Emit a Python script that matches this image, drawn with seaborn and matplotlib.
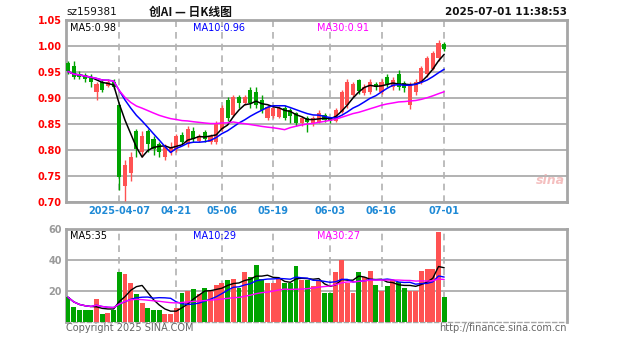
import numpy as np
import pandas as pd
import matplotlib
matplotlib.use("Agg")
import matplotlib.pyplot as plt
import seaborn as sns

# ---- daily bars, sz159381 ----
dates = [
    "2025-03-24", "2025-03-25", "2025-03-26", "2025-03-27", "2025-03-28", "2025-03-31",
    "2025-04-01", "2025-04-02", "2025-04-03", "2025-04-07", "2025-04-08", "2025-04-09",
    "2025-04-10", "2025-04-11", "2025-04-14", "2025-04-15", "2025-04-16", "2025-04-17",
    "2025-04-18", "2025-04-21", "2025-04-22", "2025-04-23", "2025-04-24", "2025-04-25",
    "2025-04-28", "2025-04-29", "2025-04-30", "2025-05-06", "2025-05-07", "2025-05-08",
    "2025-05-09", "2025-05-12", "2025-05-13", "2025-05-14", "2025-05-15", "2025-05-16",
    "2025-05-19", "2025-05-20", "2025-05-21", "2025-05-22", "2025-05-23", "2025-05-26",
    "2025-05-27", "2025-05-28", "2025-05-29", "2025-05-30", "2025-06-03", "2025-06-04",
    "2025-06-05", "2025-06-06", "2025-06-09", "2025-06-10", "2025-06-11", "2025-06-12",
    "2025-06-13", "2025-06-16", "2025-06-17", "2025-06-18", "2025-06-19", "2025-06-20",
    "2025-06-23", "2025-06-24", "2025-06-25", "2025-06-26", "2025-06-27", "2025-06-30",
    "2025-07-01",
]
opens = [
    0.968, 0.961, 0.946, 0.944, 0.941, 0.911, 0.931, 0.924, 0.931, 0.886,
    0.731, 0.756, 0.836, 0.796, 0.836, 0.821, 0.811, 0.786, 0.796, 0.801,
    0.829, 0.811, 0.836, 0.818, 0.834, 0.816, 0.816, 0.841, 0.896, 0.868,
    0.901, 0.891, 0.916, 0.911, 0.896, 0.862, 0.866, 0.864, 0.881, 0.876,
    0.871, 0.851, 0.862, 0.851, 0.854, 0.868, 0.862, 0.856, 0.874, 0.886,
    0.906, 0.934, 0.909, 0.911, 0.926, 0.911, 0.941, 0.921, 0.946, 0.928,
    0.886, 0.911, 0.931, 0.946, 0.956, 0.976, 1.004,
]
highs = [
    0.971, 0.971, 0.951, 0.948, 0.946, 0.931, 0.936, 0.936, 0.936, 0.888,
    0.781, 0.796, 0.841, 0.836, 0.841, 0.826, 0.816, 0.811, 0.816, 0.831,
    0.834, 0.846, 0.844, 0.831, 0.838, 0.830, 0.856, 0.886, 0.901, 0.906,
    0.906, 0.906, 0.921, 0.921, 0.906, 0.886, 0.886, 0.884, 0.886, 0.881,
    0.874, 0.866, 0.866, 0.866, 0.876, 0.872, 0.864, 0.881, 0.916, 0.936,
    0.931, 0.936, 0.926, 0.936, 0.931, 0.936, 0.946, 0.940, 0.954, 0.933,
    0.931, 0.936, 0.962, 0.981, 0.991, 1.011, 1.008,
]
lows = [
    0.946, 0.936, 0.936, 0.931, 0.921, 0.896, 0.911, 0.921, 0.918, 0.724,
    0.701, 0.741, 0.786, 0.786, 0.796, 0.791, 0.786, 0.781, 0.791, 0.796,
    0.811, 0.806, 0.816, 0.816, 0.816, 0.812, 0.811, 0.836, 0.856, 0.864,
    0.881, 0.886, 0.881, 0.881, 0.871, 0.858, 0.861, 0.861, 0.858, 0.851,
    0.846, 0.846, 0.834, 0.846, 0.851, 0.854, 0.851, 0.853, 0.872, 0.881,
    0.901, 0.908, 0.906, 0.908, 0.916, 0.908, 0.921, 0.916, 0.916, 0.911,
    0.878, 0.906, 0.926, 0.941, 0.954, 0.971, 0.991,
]
closes = [
    0.951, 0.941, 0.941, 0.936, 0.931, 0.926, 0.916, 0.931, 0.921, 0.748,
    0.771, 0.786, 0.801, 0.826, 0.811, 0.801, 0.796, 0.806, 0.806, 0.826,
    0.816, 0.841, 0.821, 0.826, 0.821, 0.826, 0.851, 0.881, 0.861, 0.901,
    0.891, 0.901, 0.891, 0.886, 0.876, 0.882, 0.881, 0.881, 0.861, 0.866,
    0.851, 0.861, 0.854, 0.861, 0.872, 0.858, 0.856, 0.876, 0.911, 0.931,
    0.926, 0.913, 0.921, 0.931, 0.921, 0.931, 0.926, 0.935, 0.921, 0.920,
    0.926, 0.931, 0.958, 0.976, 0.986, 1.006, 0.994,
]
volumes = [
    16, 10, 8, 8, 8, 15, 5, 6, 8, 32,
    31, 25, 18, 12, 9, 8, 8, 5, 5, 9,
    19, 20, 21, 18, 22, 20, 24, 25, 27, 28,
    22, 32, 29, 37, 28, 25, 25, 28, 25, 25,
    36, 27, 27, 23, 27, 19, 19, 32, 40, 25,
    19, 32, 29, 33, 24, 20, 23, 27, 26, 22,
    20, 20, 33, 34, 34, 58, 16,
]

tick_dates = ["2025-04-07", "2025-04-21", "2025-05-06", "2025-05-19",
              "2025-06-03", "2025-06-16", "2025-07-01"]
tick_labels = ["2025-04-07", "04-21", "05-06", "05-19", "06-03", "06-16", "07-01"]
price_ticks = [1.05, 1.00, 0.95, 0.90, 0.85, 0.80, 0.75, 0.70]
volume_ticks = [60, 40, 20]

code = "sz159381"
title = "创AI — 日K线图"
stamp = "2025-07-01 11:38:53"

UP, DOWN = "#ff5252", "#00a300"
MA_COLORS = {5: "#000000", 10: "#0000ff", 30: "#ff00ff"}
GRID = "#b2b2b2"

df = pd.DataFrame({"date": dates, "open": opens, "high": highs,
                   "low": lows, "close": closes, "volume": volumes})
df["pos"] = np.arange(len(df))
df["dir"] = np.where(df["close"] >= df["open"], "up", "down")
for n in (5, 10, 30):
    df[f"ma{n}"] = df["close"].rolling(n, min_periods=1).mean()
    df[f"vma{n}"] = df["volume"].rolling(n, min_periods=1).mean()
colors = df["dir"].map({"up": UP, "down": DOWN})
tick_pos = [dates.index(d) for d in tick_dates]

sns.set_style("white")
plt.rcParams["font.family"] = ["DejaVu Sans"]

W, H = 627, 342
fig = plt.figure(figsize=(W / 100, H / 100), dpi=100)
ax = fig.add_axes([66 / W, 1 - 202 / H, 501 / W, 182 / H])
axv = fig.add_axes([66 / W, 1 - 322 / H, 501 / W, 93 / H])

step = 5.7
xlim = (-(68 - 66) / step, (567 - 68) / step)

# ---- price panel ----
ax.vlines(df["pos"], df["low"], df["high"], colors=colors, lw=1, zorder=3)
body_lo = np.minimum(df["open"], df["close"])
body_h = np.maximum((df["close"] - df["open"]).abs(), 0.002)
ax.bar(df["pos"], body_h, bottom=body_lo, width=0.72, color=colors, lw=0, zorder=3)
for n, c in MA_COLORS.items():
    sns.lineplot(x=df["pos"], y=df[f"ma{n}"], color=c, lw=1.1, ax=ax, zorder=4)

ax.set_xlim(*xlim)
ax.set_ylim(0.70, 1.05)
ax.set_yticks(price_ticks)
ax.set_yticklabels([f"{v:.2f}" for v in price_ticks], color="#ff0000",
                   fontsize=7, fontweight="bold")
ax.set_xticks(tick_pos)
ax.set_xticklabels(tick_labels, color="#1f8ad6", fontsize=7, fontweight="bold")
ax.tick_params(length=0, pad=3)
ax.set_xlabel("")
ax.set_ylabel("")
ax.yaxis.grid(True, color=GRID, lw=1.4, ls="-")
ax.xaxis.grid(True, color=GRID, lw=1.2, ls=(0, (4, 3)))
ax.set_axisbelow(True)
for s in ax.spines.values():
    s.set_color("#a6a6a6")
    s.set_linewidth(2)

last = df.iloc[-1]
ax.text(0.008, 0.985, f"MA5:{last['ma5']:.2f}", transform=ax.transAxes,
        color=MA_COLORS[5], fontsize=7, va="top", ha="left")
ax.text(0.253, 0.985, f"MA10:{last['ma10']:.2f}", transform=ax.transAxes,
        color=MA_COLORS[10], fontsize=7, va="top", ha="left")
ax.text(0.50, 0.985, f"MA30:{last['ma30']:.2f}", transform=ax.transAxes,
        color=MA_COLORS[30], fontsize=7, va="top", ha="left")
ax.text(0.995, 0.12, "sina", transform=ax.transAxes, color="#f2b0b0",
        fontsize=9, fontstyle="italic", fontweight="bold", ha="right", va="center",
        alpha=0.8)

# ---- volume panel ----
sns.barplot(data=df, x="pos", y="volume", hue="dir",
            palette={"up": UP, "down": DOWN}, native_scale=True, dodge=False,
            width=0.85, errorbar=None, saturation=1, legend=False, lw=0,
            ax=axv, zorder=3)
for n, c in MA_COLORS.items():
    sns.lineplot(x=df["pos"], y=df[f"vma{n}"], color=c, lw=1, ax=axv, zorder=4)

axv.set_xlim(*xlim)
axv.set_ylim(0, 60)
axv.set_yticks(volume_ticks)
axv.set_yticklabels([str(v) for v in volume_ticks], color="#9a9a9a",
                    fontsize=7, fontweight="bold")
axv.set_xticks(tick_pos)
axv.set_xticklabels([])
axv.tick_params(length=0, pad=3)
axv.set_xlabel("")
axv.set_ylabel("")
axv.yaxis.grid(True, color=GRID, lw=1.4, ls="-")
axv.xaxis.grid(True, color=GRID, lw=1.2, ls=(0, (4, 3)))
axv.set_axisbelow(True)
for name, s in axv.spines.items():
    s.set_color("#a6a6a6")
    s.set_linewidth(2)
axv.spines["bottom"].set_linestyle((0, (3, 2)))
axv.spines["bottom"].set_linewidth(1)

axv.text(0.008, 0.975, f"MA5:{last['vma5']:.0f}", transform=axv.transAxes,
         color=MA_COLORS[5], fontsize=7, va="top", ha="left")
axv.text(0.253, 0.975, f"MA10:{last['vma10']:.0f}", transform=axv.transAxes,
         color=MA_COLORS[10], fontsize=7, va="top", ha="left")
axv.text(0.50, 0.975, f"MA30:{last['vma30']:.0f}", transform=axv.transAxes,
         color=MA_COLORS[30], fontsize=7, va="top", ha="left")

# ---- header and footer ----
fig.text(66 / W, 1 - 12 / H, code, fontsize=7.5, color="#111111", ha="left", va="center")
fig.text(190 / W, 1 - 12 / H, title, fontsize=8.5, color="#111111", ha="center",
         va="center", family=["Noto Sans CJK SC", "DejaVu Sans"], fontweight="bold")
fig.text(567 / W, 1 - 12 / H, stamp, fontsize=7.5, color="#111111", ha="right",
         va="center", fontweight="bold")
fig.text(66 / W, 1 - 328 / H, "Copyright 2025 SINA.COM", fontsize=7, color="#666666",
         ha="left", va="center")
fig.text(567 / W, 1 - 328 / H, "http://finance.sina.com.cn", fontsize=7, color="#666666",
         ha="right", va="center")

fig.savefig("out.png", dpi=100, facecolor="white")
